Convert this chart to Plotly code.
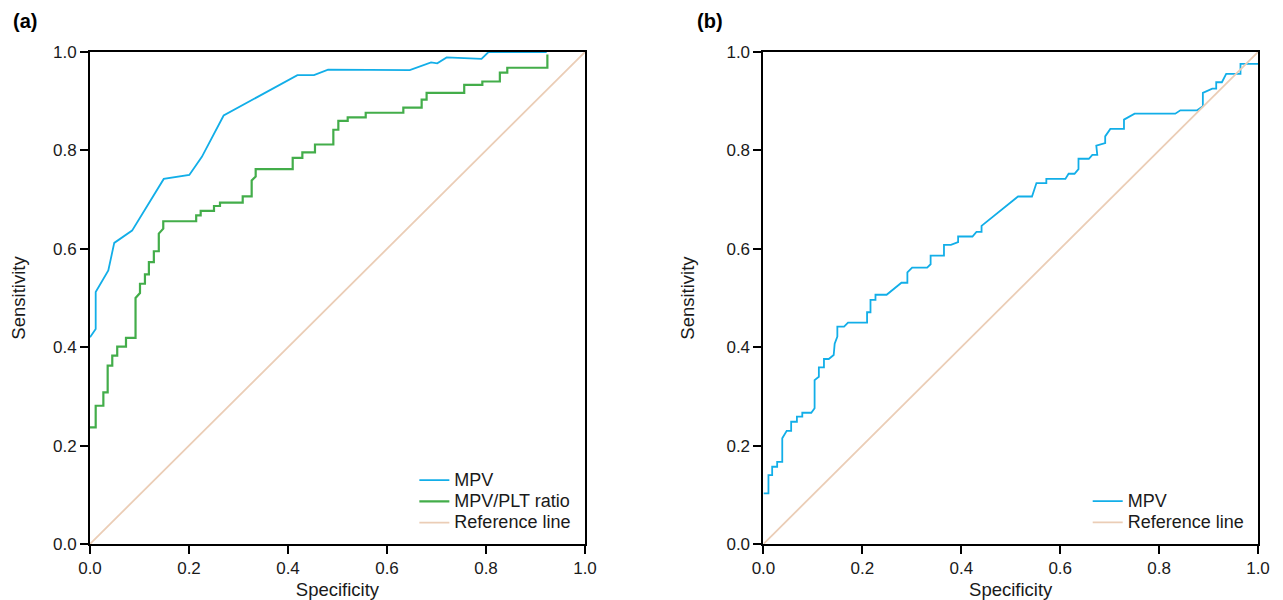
import plotly.graph_objects as go

# ---------------- data ----------------
# Panel (a): MPV ROC curve
mpv_a_x = [0.0, 0.0115, 0.0115, 0.037, 0.049, 0.085, 0.149, 0.2006, 0.226, 0.27,
           0.419, 0.4525, 0.481, 0.646, 0.689, 0.7016, 0.7205, 0.791, 0.805, 0.9226]
mpv_a_y = [0.42, 0.437, 0.512, 0.556, 0.612, 0.637, 0.742, 0.750, 0.787, 0.871,
           0.953, 0.953, 0.964, 0.963, 0.979, 0.977, 0.989, 0.986, 1.0, 1.0]

# Panel (a): MPV/PLT ratio ROC curve
ratio_a_x = [0.0, 0.0115, 0.0115, 0.027, 0.027, 0.0357, 0.0357, 0.045, 0.045, 0.055,
             0.055, 0.0727, 0.0727, 0.092, 0.092, 0.101, 0.101, 0.111, 0.111, 0.119,
             0.119, 0.129, 0.129, 0.139, 0.139, 0.148, 0.148, 0.2145, 0.2145, 0.2236,
             0.2236, 0.2505, 0.2505, 0.2626, 0.2626, 0.3085, 0.3085, 0.3266, 0.3266, 0.3347,
             0.3347, 0.4095, 0.4095, 0.429, 0.429, 0.4545, 0.4545, 0.4916, 0.4916, 0.5017,
             0.5017, 0.5206, 0.5206, 0.557, 0.557, 0.633, 0.633, 0.670, 0.670, 0.680,
             0.680, 0.756, 0.756, 0.7926, 0.7926, 0.828, 0.828, 0.843, 0.843, 0.924,
             0.924]
ratio_a_y = [0.237, 0.237, 0.281, 0.281, 0.308, 0.308, 0.3625, 0.3625, 0.383, 0.383,
             0.401, 0.401, 0.419, 0.419, 0.50, 0.51, 0.529, 0.529, 0.548, 0.548,
             0.573, 0.573, 0.595, 0.595, 0.631, 0.641, 0.656, 0.656, 0.668, 0.668,
             0.677, 0.677, 0.687, 0.687, 0.694, 0.694, 0.7067, 0.7067, 0.739, 0.747,
             0.762, 0.762, 0.785, 0.785, 0.796, 0.796, 0.812, 0.812, 0.842, 0.842,
             0.86, 0.86, 0.867, 0.867, 0.8765, 0.8765, 0.887, 0.887, 0.903, 0.903,
             0.917, 0.917, 0.933, 0.933, 0.940, 0.940, 0.958, 0.958, 0.968, 0.968,
             0.995]

# Panel (b): MPV ROC curve
mpv_b_x = [0.0, 0.0101, 0.0101, 0.0176, 0.0176, 0.0277, 0.0277, 0.038, 0.038, 0.047,
           0.056, 0.056, 0.0676, 0.0676, 0.0785, 0.0785, 0.0967, 0.1034, 0.1034, 0.112,
           0.112, 0.1223, 0.1223, 0.132, 0.142, 0.144, 0.1494, 0.1494, 0.163, 0.171,
           0.2095, 0.2095, 0.2164, 0.2164, 0.2265, 0.2265, 0.249, 0.279, 0.291, 0.291,
           0.3006, 0.331, 0.338, 0.338, 0.365, 0.365, 0.379, 0.3936, 0.3936, 0.4226,
           0.4307, 0.441, 0.441, 0.5148, 0.543, 0.552, 0.572, 0.572, 0.6105, 0.617,
           0.629, 0.637, 0.637, 0.658, 0.665, 0.675, 0.673, 0.691, 0.691, 0.7014,
           0.729, 0.729, 0.7505, 0.8327, 0.843, 0.877, 0.8885, 0.8885, 0.9075, 0.9155,
           0.9155, 0.927, 0.9357, 0.9646, 0.9646, 1.0]
mpv_b_y = [0.103, 0.103, 0.140, 0.140, 0.157, 0.157, 0.167, 0.167, 0.2147, 0.230,
           0.230, 0.2485, 0.2485, 0.2587, 0.2587, 0.2668, 0.2668, 0.2758, 0.333, 0.340,
           0.359, 0.359, 0.376, 0.376, 0.384, 0.407, 0.4216, 0.442, 0.442, 0.450,
           0.450, 0.471, 0.471, 0.4963, 0.4963, 0.5066, 0.5066, 0.531, 0.531, 0.552,
           0.5617, 0.5617, 0.5686, 0.586, 0.586, 0.608, 0.608, 0.6134, 0.625, 0.625,
           0.6344, 0.6344, 0.6466, 0.7063, 0.7063, 0.7336, 0.7336, 0.742, 0.742, 0.7525,
           0.7525, 0.762, 0.783, 0.783, 0.791, 0.791, 0.8096, 0.815, 0.8285, 0.8436,
           0.8436, 0.8625, 0.8747, 0.8747, 0.8815, 0.8815, 0.8896, 0.917, 0.9257, 0.9257,
           0.9385, 0.9385, 0.9556, 0.9556, 0.976, 0.976]

ref_x = [0.0, 1.0]
ref_y = [0.0, 1.0]

tick_vals = [0.0, 0.2, 0.4, 0.6, 0.8, 1.0]
tick_text = ["0.0", "0.2", "0.4", "0.6", "0.8", "1.0"]

BLUE = "#12aee8"
GREEN = "#43ad4a"
PEACH = "#ebcdb6"
FONT = "Liberation Sans, Arial, sans-serif"
TXT = "#1a1a1a"


def leg(name):
    return "<span style='font-size:18px'>" + name + "</span>"


fig = go.Figure()

# Panel (a)
fig.add_trace(go.Scatter(x=mpv_a_x, y=mpv_a_y, mode="lines", name=leg("MPV"),
                         line=dict(color=BLUE, width=1.8), xaxis="x", yaxis="y",
                         legend="legend"))
fig.add_trace(go.Scatter(x=ratio_a_x, y=ratio_a_y, mode="lines", name=leg("MPV/PLT ratio"),
                         line=dict(color=GREEN, width=2.2), xaxis="x", yaxis="y",
                         legend="legend"))
fig.add_trace(go.Scatter(x=ref_x, y=ref_y, mode="lines", name=leg("Reference line"),
                         line=dict(color=PEACH, width=1.8), xaxis="x", yaxis="y",
                         legend="legend"))

# Panel (b)
fig.add_trace(go.Scatter(x=mpv_b_x, y=mpv_b_y, mode="lines", name=leg("MPV"),
                         line=dict(color=BLUE, width=1.8), xaxis="x2", yaxis="y2",
                         legend="legend2"))
fig.add_trace(go.Scatter(x=ref_x, y=ref_y, mode="lines", name=leg("Reference line"),
                         line=dict(color=PEACH, width=1.8), xaxis="x2", yaxis="y2",
                         legend="legend2"))

axis_common = dict(
    range=[0, 1], tickmode="array", tickvals=tick_vals, ticktext=tick_text,
    showline=True, linecolor="black", linewidth=2, mirror=True,
    ticks="outside", ticklen=8, tickwidth=2, tickcolor="black",
    showgrid=False, zeroline=False, automargin=False,
    tickfont=dict(family=FONT, size=17, color=TXT),
    fixedrange=True,
)

xtitle = dict(text="Specificity", standoff=9, font=dict(family=FONT, size=18.5, color=TXT))
ytitle = dict(text="Sensitivity", standoff=27, font=dict(family=FONT, size=18.5, color=TXT))

fig.update_layout(
    width=1275, height=592,
    paper_bgcolor="white", plot_bgcolor="white",
    margin=dict(l=82, r=25, t=44, b=56),
    font=dict(family=FONT, size=17, color=TXT),
    xaxis=dict(domain=[0, 0.4238], anchor="y", title=xtitle, **axis_common),
    yaxis=dict(domain=[0, 1], anchor="x", title=ytitle, **axis_common),
    xaxis2=dict(domain=[0.5766, 1.0], anchor="y2", title=xtitle, **axis_common),
    yaxis2=dict(domain=[0, 1], anchor="x2", title=ytitle, **axis_common),
    legend=dict(x=0.2777, y=0.011, xanchor="left", yanchor="bottom",
                bgcolor="rgba(0,0,0,0)", borderwidth=0, tracegroupgap=0,
                font=dict(family=FONT, size=14, color=TXT)),
    legend2=dict(x=0.8542, y=0.011, xanchor="left", yanchor="bottom",
                 bgcolor="rgba(0,0,0,0)", borderwidth=0, tracegroupgap=0,
                 font=dict(family=FONT, size=14, color=TXT)),
    annotations=[
        dict(text="<b>(a)</b>", xref="paper", yref="paper", x=-0.0557, y=1.063,
             xanchor="center", yanchor="middle", showarrow=False,
             font=dict(family=FONT, size=20, color="black")),
        dict(text="<b>(b)</b>", xref="paper", yref="paper", x=0.5308, y=1.063,
             xanchor="center", yanchor="middle", showarrow=False,
             font=dict(family=FONT, size=20, color="black")),
    ],
)

fig.write_html("out.html")
